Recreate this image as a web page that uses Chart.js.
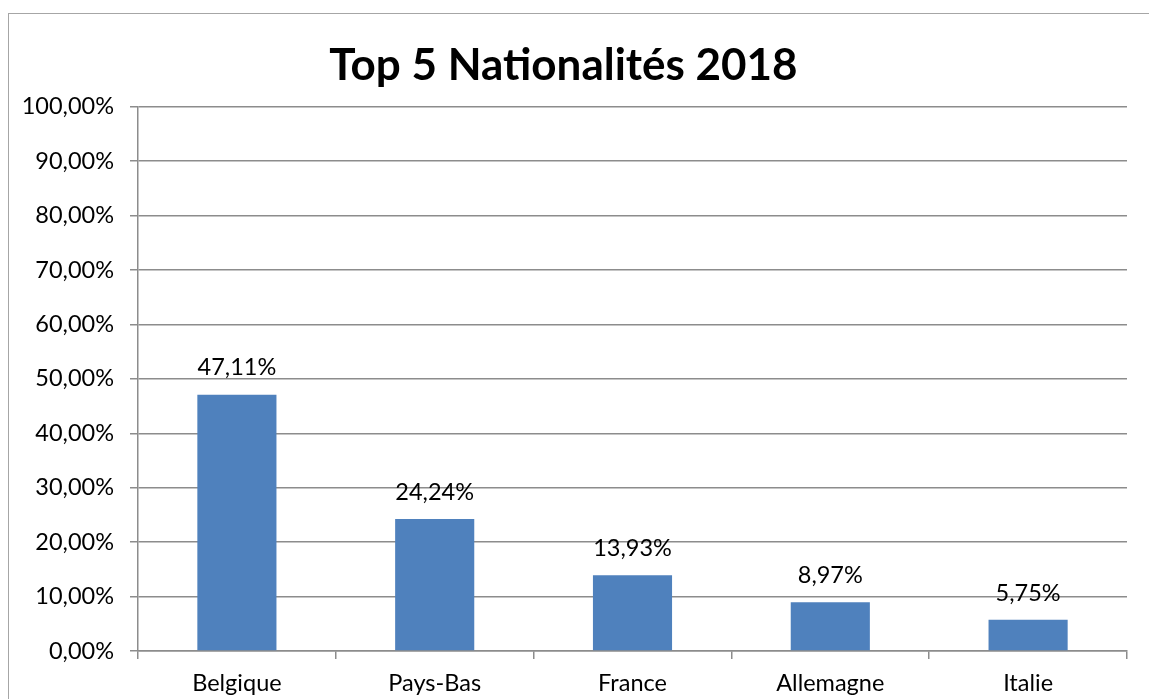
<!DOCTYPE html>
<html>
<head>
<meta charset="utf-8">
<script src="https://cdn.jsdelivr.net/npm/chart.js@4/dist/chart.umd.min.js"></script>
<style>
    html, body { margin: 0; padding: 0; background: #fff; overflow: hidden; }
    #wrap { position: relative; width: 1149px; height: 699px; }
    #frame { position: absolute; left: 8px; top: 13px; width: 1200px; height: 800px; border: 1.5px solid #a6a6a6; box-sizing: border-box; }
    canvas { position: absolute; left: 0; top: 0; }
</style>
</head>
<body>
<div id="wrap">
    <div id="frame"></div>
    <canvas id="chart" width="1149" height="699"></canvas>
</div>
<script>
// Top 5 nationalities 2018 — share of visitors per country (%).
const TITLE = 'Top 5 Nationalités 2018';
const categories = ['Belgique', 'Pays-Bas', 'France', 'Allemagne', 'Italie'];
const shares = [47.11, 24.24, 13.93, 8.97, 5.75];
const yTicks = [0, 10, 20, 30, 40, 50, 60, 70, 80, 90, 100];

const FONT = 'Lato, "Open Sans", sans-serif';
const BAR_COLOR = '#4f81bd';
const GRID_COLOR = '#8c8c8c';

const fmtPct = v => v.toFixed(2).replace('.', ',') + '%';

// Draws the value above each bar, positioned through the bar elements.
const valueLabels = {
    id: 'valueLabels',
    afterDatasetsDraw(chart) {
        const ctx = chart.ctx;
        const meta = chart.getDatasetMeta(0);
        ctx.save();
        ctx.font = '23.5px ' + FONT;
        ctx.fillStyle = '#000';
        ctx.textAlign = 'center';
        ctx.textBaseline = 'bottom';
        meta.data.forEach((bar, i) => {
            ctx.fillText(fmtPct(shares[i]), bar.x, bar.y - 15);
        });
        ctx.restore();
    }
};

new Chart(document.getElementById('chart').getContext('2d'), {
    type: 'bar',
    data: {
        labels: categories,
        datasets: [{
            data: shares,
            backgroundColor: BAR_COLOR,
            borderWidth: 0,
            categoryPercentage: 1,
            barPercentage: 0.4
        }]
    },
    options: {
        responsive: false,
        animation: false,
        layout: { padding: { left: 0, right: 22, top: 0, bottom: 0 } },
        plugins: {
            legend: { display: false },
            tooltip: { enabled: false },
            title: {
                display: true,
                text: TITLE,
                color: '#000',
                font: { family: FONT, size: 44, weight: 'bold' },
                padding: { top: 39, bottom: 15 }
            }
        },
        scales: {
            x: {
                grid: { drawOnChartArea: false, drawTicks: true, tickLength: 8, color: GRID_COLOR, lineWidth: 1.5 },
                border: { color: GRID_COLOR, width: 1.5 },
                ticks: { color: '#000', font: { family: FONT, size: 23.5 }, padding: 10, maxRotation: 0 },
                afterFit: s => { s.height = 48; }
            },
            y: {
                min: 0,
                max: 100,
                afterBuildTicks: s => { s.ticks = yTicks.map(v => ({ value: v })); },
                grid: { color: GRID_COLOR, lineWidth: 1.5, tickLength: 8 },
                border: { color: GRID_COLOR, width: 1.5 },
                ticks: { color: '#000', font: { family: FONT, size: 23.5 }, padding: 16, callback: v => fmtPct(v) },
                afterFit: s => { s.width = 138; }
            }
        }
    },
    plugins: [valueLabels]
});
</script>
</body>
</html>
